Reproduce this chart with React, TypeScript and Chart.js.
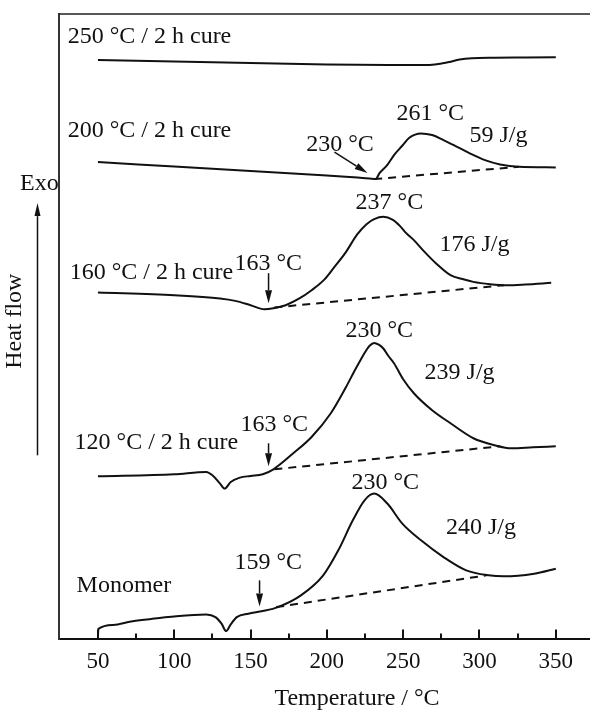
import { useEffect, useRef } from 'react';
import { Chart, registerables } from 'chart.js';

Chart.register(...registerables);

const FONT = '"Liberation Serif", "Times New Roman", serif';
const INK = '#111';

// X axis
const xTickValues = [50, 100, 150, 200, 250, 300, 350];
const xMinorTicks = [75, 125, 175, 225, 275, 325];
const xAxisTitle = 'Temperature / °C';
const yAxisTitle = 'Heat flow';
const exoLabel = 'Exo';

// Curves: temperature (°C) and heat flow (arbitrary units, stacked offsets)
const t250 = [50, 100, 150, 200, 240, 266, 273, 280, 287, 295, 310, 330, 350];
const v250 = [57.9, 57.75, 57.6, 57.45, 57.4, 57.4, 57.5, 57.7, 57.95, 58.08, 58.13, 58.15, 58.17];

const t200 = [50, 100, 150, 200, 220, 228, 232, 234.5, 239.5, 244, 249.4, 254, 261.7, 269, 276.4, 284, 293.7, 303.6, 313.5, 325.8, 350];
const v200 = [47.7, 47.25, 46.8, 46.35, 46.15, 46.05, 46.0, 46.6, 47.4, 48.4, 49.33, 50.13, 50.57, 50.4, 49.9, 49.33, 48.57, 47.9, 47.47, 47.23, 47.17];
const b200t = [231, 325.8];
const b200v = [46.0, 47.23];

const t160 = [50, 100, 130, 140, 150, 159, 165, 173, 182, 190, 198, 205, 212, 220, 226, 231, 237, 243, 248, 252, 257, 264, 271.6, 281, 290, 296, 307, 318, 330, 347];
const v160 = [34.68, 34.4, 34.07, 33.83, 33.4, 33.0, 33.1, 33.4, 34.07, 34.9, 35.9, 37.23, 38.6, 40.5, 41.5, 42.0, 42.23, 41.95, 41.3, 40.6, 39.9, 38.73, 37.57, 36.4, 35.97, 35.73, 35.5, 35.4, 35.47, 35.63];
const b160t = [165.6, 316];
const b160v = [33.17, 35.4];

const t120 = [50, 100, 121, 125, 130, 133, 137, 143, 150, 158, 165, 178, 190, 202.6, 212.6, 218, 222, 225, 228, 231, 234, 237, 240, 244, 250, 257, 269, 281, 296, 310, 321, 335, 350];
const v120 = [16.3, 16.5, 16.73, 16.4, 15.57, 15.07, 15.73, 16.17, 16.33, 16.5, 17.0, 18.6, 20.23, 22.6, 25.23, 26.8, 27.9, 28.7, 29.35, 29.63, 29.45, 29.07, 28.4, 27.6, 26.0, 24.6, 22.9, 21.6, 20.1, 19.4, 19.1, 19.2, 19.3];
const b120t = [165.6, 313.5];
const b120v = [17.0, 19.3];

const tMono = [50, 50.3, 60, 71.8, 85, 96, 121, 127, 131, 134, 137, 141, 148.5, 158, 168, 183, 197.6, 207.5, 217, 224.7, 231, 239.5, 249.3, 261.7, 276.4, 291.3, 306, 316, 335.8, 350];
const vMono = [0.2, 1.05, 1.45, 1.8, 2.05, 2.23, 2.5, 2.23, 1.57, 0.83, 1.5, 2.23, 2.57, 2.83, 3.23, 4.4, 6.4, 8.9, 11.9, 13.9, 14.57, 13.6, 11.6, 9.9, 8.23, 6.9, 6.4, 6.3, 6.57, 7.07];
const bMonoT = [166.8, 304.6];
const bMonoV = [3.23, 6.4];

// Annotations (left-aligned text anchored at temperature / heat-flow position)
const annotTexts = ['250 °C / 2 h cure', '200 °C / 2 h cure', '261 °C', '59 J/g', '230 °C', '237 °C', '176 J/g', '160 °C / 2 h cure', '163 °C', '230 °C', '239 J/g', '163 °C', '120 °C / 2 h cure', '230 °C', '240 J/g', '159 °C', 'Monomer'];
const annotT = [30.2, 30.2, 245.6, 293.4, 186.5, 218.8, 273.8, 31.5, 139.5, 212.2, 264, 143.4, 34.7, 216.1, 278, 139.5, 36];
const annotV = [59.6, 50.2, 51.9, 49.7, 48.8, 43.0, 38.8, 36.0, 36.9, 30.2, 26.0, 20.8, 19.0, 15.0, 10.5, 7.0, 4.7];

// Onset arrows: tail (T0,V0) -> tip (T1,V1)
const arrowT0 = [205, 161.8, 161.8, 155.9];
const arrowV0 = [48.7, 36.6, 19.6, 5.9];
const arrowT1 = [226.6, 161.8, 161.8, 155.9];
const arrowV1 = [46.6, 33.6, 17.3, 3.3];

// Left-side "Exo" arrow (heat-flow positions)
const exoV = 44.9;
const exoArrowV0 = 18.4;
const exoArrowV1 = 43.6;
const heatFlowV = 31.8;

const mk = (t: number[], v: number[]) => t.map((x, i) => ({ x, y: v[i] }));

function drawArrow(ctx: CanvasRenderingContext2D, x0: number, y0: number, x1: number, y1: number, head: number, half: number, lw: number) {
  const ang = Math.atan2(y1 - y0, x1 - x0);
  const bx = x1 - head * Math.cos(ang);
  const by = y1 - head * Math.sin(ang);
  ctx.lineWidth = lw;
  ctx.beginPath();
  ctx.moveTo(x0, y0);
  ctx.lineTo(bx, by);
  ctx.stroke();
  ctx.beginPath();
  ctx.moveTo(x1, y1);
  ctx.lineTo(bx + half * Math.sin(ang), by - half * Math.cos(ang));
  ctx.lineTo(bx - half * Math.sin(ang), by + half * Math.cos(ang));
  ctx.closePath();
  ctx.fill();
}

const decorPlugin = {
  id: 'decor',
  afterDraw(chart: any) {
    const { ctx, chartArea: a, scales } = chart;
    const x = scales.x;
    const y = scales.y;
    ctx.save();
    ctx.strokeStyle = '#222';
    ctx.lineWidth = 1.5;
    ctx.beginPath();
    ctx.moveTo(a.left, a.top);
    ctx.lineTo(a.right, a.top);
    ctx.lineTo(a.right, a.bottom);
    ctx.stroke();

    ctx.strokeStyle = INK;
    ctx.lineWidth = 2;
    ctx.beginPath();
    xTickValues.forEach((v) => {
      const px = Math.round(x.getPixelForValue(v));
      ctx.moveTo(px, a.bottom);
      ctx.lineTo(px, a.bottom - 10);
    });
    xMinorTicks.forEach((v) => {
      const px = Math.round(x.getPixelForValue(v));
      ctx.moveTo(px, a.bottom);
      ctx.lineTo(px, a.bottom - 6);
    });
    ctx.stroke();

    ctx.fillStyle = INK;
    ctx.font = `24px ${FONT}`;
    ctx.textAlign = 'left';
    ctx.textBaseline = 'alphabetic';
    annotTexts.forEach((s, i) => {
      ctx.fillText(s, x.getPixelForValue(annotT[i]), y.getPixelForValue(annotV[i]));
    });

    ctx.strokeStyle = INK;
    arrowT0.forEach((_, i) => {
      drawArrow(ctx, x.getPixelForValue(arrowT0[i]), y.getPixelForValue(arrowV0[i]), x.getPixelForValue(arrowT1[i]), y.getPixelForValue(arrowV1[i]), 13, 3.5, 1.5);
    });

    // left side labels
    ctx.fillText(exoLabel, a.left - 39, y.getPixelForValue(exoV));
    const ax = a.left - 21.5;
    drawArrow(ctx, ax, y.getPixelForValue(exoArrowV0), ax, y.getPixelForValue(exoArrowV1), 13, 3, 1.5);
    ctx.save();
    ctx.translate(a.left - 44, y.getPixelForValue(heatFlowV));
    ctx.rotate(-Math.PI / 2);
    ctx.textAlign = 'center';
    ctx.textBaseline = 'middle';
    ctx.fillText(yAxisTitle, 0, 0);
    ctx.restore();
    ctx.restore();
  },
};

export default function App() {
  const ref = useRef<HTMLCanvasElement | null>(null);
  useEffect(() => {
    if (!ref.current) return;
    const solid = (t: number[], v: number[]) => ({
      data: mk(t, v),
      borderColor: INK,
      borderWidth: 2,
      pointRadius: 0,
      fill: false,
      cubicInterpolationMode: 'monotone' as const,
    });
    const dashed = (t: number[], v: number[]) => ({
      data: mk(t, v),
      borderColor: INK,
      borderWidth: 2,
      borderDash: [8, 6],
      pointRadius: 0,
      fill: false,
    });
    const chart = new Chart(ref.current, {
      type: 'line',
      data: {
        datasets: [
          solid(t250, v250),
          solid(t200, v200),
          dashed(b200t, b200v),
          solid(t160, v160),
          dashed(b160t, b160v),
          solid(t120, v120),
          dashed(b120t, b120v),
          solid(tMono, vMono),
          dashed(bMonoT, bMonoV),
        ] as any,
      },
      options: {
        animation: false,
        responsive: false,
        devicePixelRatio: 1,
        layout: { padding: { top: 14, right: 5, bottom: 1, left: 0 } },
        plugins: { legend: { display: false }, tooltip: { enabled: false } },
        scales: {
          x: {
            type: 'linear',
            min: 24.5,
            max: 415,
            position: 'bottom',
            afterBuildTicks: (s: any) => {
              s.ticks = xTickValues.map((v) => ({ value: v }));
            },
            grid: { display: false, drawTicks: false },
            border: { display: true, color: INK, width: 2 },
            ticks: {
              autoSkip: false,
              maxRotation: 0,
              padding: 9,
              color: INK,
              font: { family: FONT, size: 23 },
              callback: (v: any) => String(v),
            },
            title: {
              display: true,
              text: xAxisTitle,
              color: INK,
              font: { family: FONT, size: 24, lineHeight: 1 },
              padding: { top: 2, bottom: 0 },
            },
          },
          y: {
            type: 'linear',
            min: 0,
            max: 62.5,
            grid: { display: false, drawTicks: false },
            border: { display: true, color: '#333', width: 2 },
            ticks: { display: false },
            afterFit: (s: any) => {
              s.width = 59;
            },
          },
        },
      } as any,
      plugins: [decorPlugin],
    });
    return () => chart.destroy();
  }, []);
  return (
    <div style={{ position: 'absolute', left: 0, top: 0, width: 590, height: 712, overflow: 'hidden', background: '#fff' }}>
      <canvas ref={ref} width={660} height={712} style={{ display: 'block' }} />
    </div>
  );
}
